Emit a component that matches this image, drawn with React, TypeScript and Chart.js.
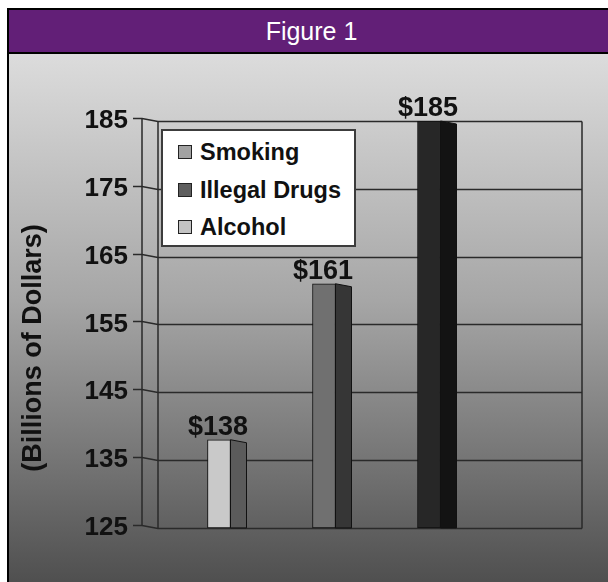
import React, { useEffect, useRef } from 'react';
import { Chart, registerables } from 'chart.js';

Chart.register(...registerables);

// ---- data ----
const categories = ['Alcohol', 'Smoking', 'Illegal Drugs'];
const costBillions = [138, 161, 185];
const legendOrder = ['Smoking', 'Illegal Drugs', 'Alcohol'];
const yMin = 125;
const yMax = 185;
const yStep = 10;
const figureTitle = 'Figure 1';
const axisTitle = '(Billions of Dollars)';
const valuePrefix = '$';

// ---- style ----
const frontColors = ['#c9c9c9', '#707070', '#272727'];
const sideColors = ['#5b5b5b', '#363636', '#131313'];
const legendSwatch: Record<string, string> = {
  Smoking: '#a2a2a2',
  'Illegal Drugs': '#5e5e5e',
  Alcohol: '#c3c3c3',
};
const FONT = '"Liberation Sans", Arial, Helvetica, sans-serif';
const DEPTH_X = 16;
const DEPTH_Y = 3;

const wallPlugin = {
  id: 'wall3d',
  beforeDatasetsDraw(chart: any) {
    const ctx = chart.ctx;
    const ys = chart.scales.y;
    const area = chart.chartArea;
    const wallLeft = area.left - 8.5;
    const wallRight = area.right + 100.5;
    const frontX = wallLeft - DEPTH_X;
    const top = Math.round(ys.getPixelForValue(yMax)) + 0.5;
    const bottom = Math.round(ys.getPixelForValue(yMin)) + 0.5;
    ctx.save();
    ctx.strokeStyle = '#2a2a2a';
    ctx.lineWidth = 1.5;
    ys.ticks.forEach((t: any) => {
      const py = Math.round(ys.getPixelForValue(t.value)) + 0.5;
      ctx.beginPath();
      ctx.moveTo(frontX - 9, py - DEPTH_Y);
      ctx.lineTo(frontX, py - DEPTH_Y);
      ctx.lineTo(wallLeft, py);
      ctx.lineTo(wallRight, py);
      ctx.stroke();
    });
    ctx.beginPath();
    ctx.moveTo(frontX, top - DEPTH_Y);
    ctx.lineTo(frontX, bottom - DEPTH_Y);
    ctx.moveTo(wallLeft, top);
    ctx.lineTo(wallLeft, bottom);
    ctx.moveTo(wallRight, top);
    ctx.lineTo(wallRight, bottom);
    ctx.stroke();
    ctx.restore();
  },
};

const barSidePlugin = {
  id: 'barSide',
  afterDatasetsDraw(chart: any) {
    const ctx = chart.ctx;
    const ys = chart.scales.y;
    const base = ys.getPixelForValue(yMin);
    const meta = chart.getDatasetMeta(0);
    ctx.save();
    meta.data.forEach((el: any, i: number) => {
      const { x, y, width } = el.getProps(['x', 'y', 'width'], true);
      const r = x + width / 2;
      ctx.beginPath();
      ctx.moveTo(r, y);
      ctx.lineTo(r + DEPTH_X, y + DEPTH_Y);
      ctx.lineTo(r + DEPTH_X, base);
      ctx.lineTo(r, base);
      ctx.closePath();
      ctx.fillStyle = sideColors[i];
      ctx.fill();
      ctx.strokeStyle = '#111';
      ctx.lineWidth = 1;
      ctx.stroke();
      // value label
      ctx.fillStyle = '#111';
      ctx.font = `bold 27px ${FONT}`;
      ctx.textAlign = 'center';
      ctx.textBaseline = 'alphabetic';
      ctx.fillText(`${valuePrefix}${costBillions[i]}`, x - 1, y - 5);
    });
    ctx.restore();
  },
  afterDraw(chart: any) {
    const ctx = chart.ctx;
    ctx.save();
    ctx.translate(34, 348);
    ctx.rotate(-Math.PI / 2);
    ctx.fillStyle = '#111';
    ctx.font = `bold 27px ${FONT}`;
    ctx.textAlign = 'center';
    ctx.textBaseline = 'middle';
    ctx.fillText(axisTitle, 0, 0);
    ctx.restore();
  },
};

function BarChart() {
  const ref = useRef<HTMLCanvasElement | null>(null);
  useEffect(() => {
    if (!ref.current) return;
    const chart = new Chart(ref.current, {
      type: 'bar',
      data: {
        labels: categories,
        datasets: [
          {
            label: 'Cost',
            data: costBillions,
            base: yMin,
            backgroundColor: frontColors,
            borderColor: '#111',
            borderWidth: 1,
            barThickness: 23,
            borderSkipped: false,
          },
        ],
      },
      options: {
        responsive: false,
        animation: false,
        layout: { padding: { left: 0, top: 121, right: 126.5, bottom: 50 } },
        plugins: { legend: { display: false }, tooltip: { enabled: false } },
        scales: {
          x: { display: false },
          y: {
            min: yMin,
            max: yMax,
            afterFit: (scale: any) => {
              scale.width = 166.5;
            },
            grid: { display: false, drawTicks: false },
            border: { display: false },
            ticks: {
              stepSize: yStep,
              padding: 38.5,
              color: '#111',
              font: { family: FONT, size: 26, weight: 'bold' },
            },
          },
        },
      },
      plugins: [wallPlugin, barSidePlugin],
    } as any);
    return () => chart.destroy();
  }, []);
  return (
    <canvas
      ref={ref}
      width={608}
      height={582}
      style={{ position: 'absolute', left: 0, top: 0, width: 608, height: 582 }}
    />
  );
}

export default function App() {
  return (
    <div
      style={{
        position: 'fixed',
        left: 0,
        top: 0,
        width: 608,
        height: 582,
        overflow: 'hidden',
        background: '#ffffff',
        fontFamily: FONT,
      }}
    >
      <div style={{ position: 'absolute', left: 7, top: 8, width: 620, height: 600, background: '#000' }} />
      <div
        style={{
          position: 'absolute',
          left: 9,
          top: 10,
          width: 605,
          height: 42,
          background: '#621f77',
          color: '#fff',
          fontSize: 25,
          lineHeight: '42px',
          textAlign: 'center',
        }}
      >
        {figureTitle}
      </div>
      <div
        style={{
          position: 'absolute',
          left: 9,
          top: 54,
          width: 620,
          height: 560,
          background: 'linear-gradient(to bottom, #dcdcdc 0%, #a6a6a6 44%, #505050 94%, #4c4c4c 100%)',
        }}
      />
      <BarChart />
      <div
        style={{
          position: 'absolute',
          left: 161,
          top: 129,
          width: 195,
          height: 118,
          boxSizing: 'border-box',
          background: '#fff',
          border: '2px solid #3c3c3c',
        }}
      >
        {legendOrder.map((name, i) => (
          <div
            key={name}
            style={{ position: 'absolute', left: 0, top: 2 + i * 37.5, height: 38, width: 190 }}
          >
            <div
              style={{
                position: 'absolute',
                left: 15,
                top: 12,
                width: 14,
                height: 14,
                boxSizing: 'border-box',
                background: legendSwatch[name],
                border: '1px solid #222',
              }}
            />
            <div
              style={{
                position: 'absolute',
                left: 37,
                top: 0,
                lineHeight: '38px',
                fontSize: 23.5,
                fontWeight: 'bold',
                color: '#111',
                whiteSpace: 'nowrap',
              }}
            >
              {name}
            </div>
          </div>
        ))}
      </div>
    </div>
  );
}
